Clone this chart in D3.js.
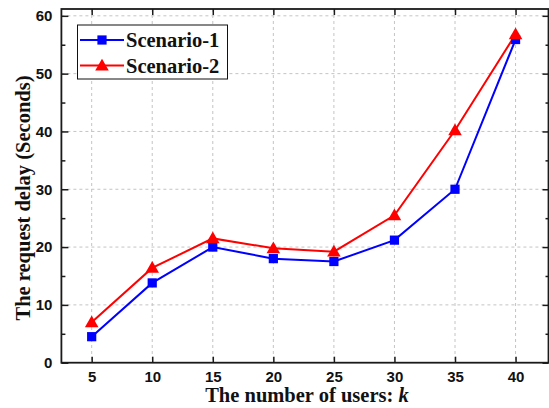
<!DOCTYPE html>
<html><head><meta charset="utf-8">
<script src="https://cdn.jsdelivr.net/npm/d3@7"></script>
<style>html,body{margin:0;padding:0;background:#fff}svg{display:block}</style>
</head><body><svg id="c" width="549" height="408"></svg>
<script>
const users = [5, 10, 15, 20, 25, 30, 35, 40];
const scenario1 = [4.5, 13.8, 20.0, 18.0, 17.5, 21.2, 30.0, 55.9];
const scenario2 = [7.0, 16.4, 21.5, 19.8, 19.2, 25.5, 40.2, 56.8];
const seriesNames = ["Scenario-1", "Scenario-2"];
const xTicks = [5, 10, 15, 20, 25, 30, 35, 40];
const yTicks = [0, 10, 20, 30, 40, 50, 60];
const yMinor = [5, 15, 25, 35, 45, 55];

const svg = d3.select("#c");
const L = 61.4, R = 548.5, T = 9, B = 362.7;
const x = d3.scaleLinear().domain([2.5, 42.72]).range([L, R]);
const y = d3.scaleLinear().domain([0, 61.18]).range([B, T]);

// grid
const g = svg.append("g");
g.selectAll("line.gx").data(xTicks).join("line")
  .attr("x1", d => x(d)).attr("x2", d => x(d)).attr("y1", T).attr("y2", B)
  .attr("stroke", "#c4c4c4").attr("stroke-width", 1).attr("stroke-dasharray", "3,3");
g.selectAll("line.gy").data(yTicks.filter(d => d > 0)).join("line")
  .attr("x1", L).attr("x2", R).attr("y1", d => y(d)).attr("y2", d => y(d))
  .attr("stroke", "#c4c4c4").attr("stroke-width", 1).attr("stroke-dasharray", "3,3");

// axes with inward ticks
const tickFont = "bold 15px 'Liberation Sans', Arial, sans-serif";
const axB = svg.append("g").attr("transform", `translate(0,${B})`)
  .call(d3.axisBottom(x).tickValues(xTicks).tickSizeInner(-6).tickSizeOuter(0).tickPadding(12));
const axT = svg.append("g").attr("transform", `translate(0,${T})`)
  .call(d3.axisTop(x).tickValues(xTicks).tickSizeInner(-6).tickSizeOuter(0).tickFormat(""));
const axL = svg.append("g").attr("transform", `translate(${L},0)`)
  .call(d3.axisLeft(y).tickValues(yTicks).tickSizeInner(-7).tickSizeOuter(0).tickPadding(9));
const axLm = svg.append("g").attr("transform", `translate(${L},0)`)
  .call(d3.axisLeft(y).tickValues(yMinor).tickSizeInner(-4).tickSizeOuter(0).tickFormat(""));
const axR = svg.append("g").attr("transform", `translate(${R},0)`)
  .call(d3.axisRight(y).tickValues(yTicks).tickSizeInner(-6).tickSizeOuter(0).tickFormat(""));
const axRm = svg.append("g").attr("transform", `translate(${R},0)`)
  .call(d3.axisRight(y).tickValues(yMinor).tickSizeInner(-3).tickSizeOuter(0).tickFormat(""));
[axB, axT, axL, axLm, axR, axRm].forEach(a => {
  a.select(".domain").remove();
  a.selectAll(".tick line").attr("stroke", "#1a1a1a").attr("stroke-width", 1.5);
  a.selectAll("text").style("font", tickFont).attr("fill", "#111");
});
axB.selectAll("text").attr("dy", "0.71em").attr("y", 9);
// frame
svg.append("rect").attr("x", L).attr("y", T).attr("width", R - L).attr("height", B - T)
  .attr("fill", "none").attr("stroke", "#1a1a1a").attr("stroke-width", 1.8);

// series
const colors = ["#0000ff", "#ff0000"];
const data = [scenario1, scenario2];
const line = d3.line().x((d, i) => x(users[i])).y(d => y(d));
const sq = d3.symbol().type(d3.symbolSquare).size(85);
const tri = d3.symbol().type(d3.symbolTriangle).size(80);
data.forEach((vals, k) => {
  svg.append("path").datum(vals).attr("d", line).attr("fill", "none")
    .attr("stroke", colors[k]).attr("stroke-width", 2);
});
data.forEach((vals, k) => {
  svg.selectAll(null).data(vals).join("path")
    .attr("transform", (d, i) => `translate(${x(users[i])},${y(d) + (k === 1 ? 1 : 0)})`)
    .attr("d", k === 0 ? sq() : tri()).attr("fill", colors[k]);
});

// legend
const lg = svg.append("g");
lg.append("rect").attr("x", 77.5).attr("y", 25).attr("width", 150).attr("height", 54)
  .attr("fill", "#fff").attr("stroke", "#111").attr("stroke-width", 1);
seriesNames.forEach((name, k) => {
  const cy = 40 + k * 25.5;
  lg.append("line").attr("x1", 80).attr("x2", 124).attr("y1", cy).attr("y2", cy)
    .attr("stroke", colors[k]).attr("stroke-width", 2);
  lg.append("path").attr("transform", `translate(102,${cy + (k === 1 ? 1 : 0)})`)
    .attr("d", k === 0 ? sq() : tri()).attr("fill", colors[k]);
  lg.append("text").attr("x", 126).attr("y", cy + 7).text(name)
    .style("font", "bold 20.5px 'Liberation Serif', 'Times New Roman', serif").attr("fill", "#111");
});

// axis titles
const xt = svg.append("text").attr("x", (L + R) / 2 + 2).attr("y", 402)
  .attr("text-anchor", "middle")
  .style("font", "bold 20.5px 'Liberation Serif', 'Times New Roman', serif").attr("fill", "#111");
xt.append("tspan").text("The number of users: ");
xt.append("tspan").attr("font-style", "italic").text("k");
svg.append("text").attr("transform", "translate(30,198) rotate(-90)")
  .attr("text-anchor", "middle")
  .style("font", "bold 20.5px 'Liberation Serif', 'Times New Roman', serif").attr("fill", "#111")
  .text("The request delay (Seconds)");
</script></body></html>
